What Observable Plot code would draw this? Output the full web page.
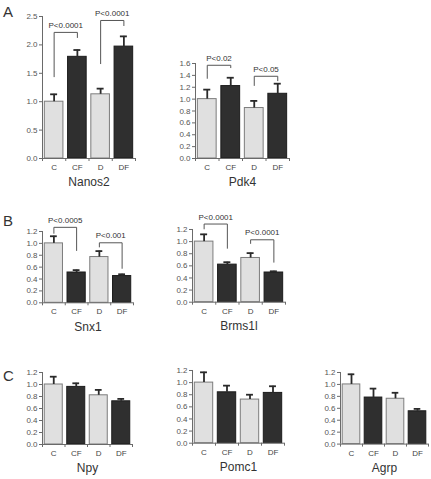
<!DOCTYPE html>
<html>
<head>
<meta charset="utf-8">
<script src="https://cdn.jsdelivr.net/npm/d3@7"></script>
<script src="https://cdn.jsdelivr.net/npm/@observablehq/plot@0.6"></script>
<style>
  html, body { margin: 0; padding: 0; background: #fff; }
  #fig { position: relative; width: 431px; height: 479px; overflow: hidden; font-family: "Liberation Sans", Arial, sans-serif; }
  .panel { position: absolute; }
  .letter { position: absolute; font-size: 15px; line-height: 15px; color: #333; }
</style>
</head>
<body>
<div id="fig"></div>
<script>
// ---- data ----
const categories = ["C", "CF", "D", "DF"];
const genes = ["Nanos2", "Pdk4", "Snx1", "Brms1l", "Npy", "Pomc1", "Agrp"];

const nanos2Mean = [1.00, 1.79, 1.13, 1.97];
const nanos2Sem  = [0.13, 0.12, 0.10, 0.18];
const pdk4Mean   = [1.00, 1.22, 0.85, 1.09];
const pdk4Sem    = [0.16, 0.14, 0.12, 0.17];
const snx1Mean   = [1.00, 0.51, 0.77, 0.45];
const snx1Sem    = [0.12, 0.04, 0.10, 0.03];
const brms1lMean = [1.00, 0.62, 0.73, 0.49];
const brms1lSem  = [0.12, 0.04, 0.08, 0.02];
const npyMean    = [1.00, 0.96, 0.82, 0.72];
const npySem     = [0.13, 0.06, 0.09, 0.04];
const pomc1Mean  = [1.00, 0.84, 0.72, 0.83];
const pomc1Sem   = [0.17, 0.11, 0.08, 0.11];
const agrpMean   = [1.00, 0.78, 0.76, 0.55];
const agrpSem    = [0.17, 0.15, 0.10, 0.04];

// significance brackets: a/b = category indices, top = bracket height, left/right = leg ends
const nanos2Brackets = [
  {a: 0, b: 1, top: 2.22, left: 1.44, right: 2.13, p: "P<0.0001"},
  {a: 2, b: 3, top: 2.43, left: 1.67, right: 2.34, p: "P<0.0001"}
];
const pdk4Brackets = [
  {a: 0, b: 1, top: 1.57, left: 1.35, right: 1.53, p: "P<0.02"},
  {a: 2, b: 3, top: 1.385, left: 1.23, right: 1.31, p: "P<0.05"}
];
const snx1Brackets = [
  {a: 0, b: 1, top: 1.27, left: 1.17, right: 0.88, p: "P<0.0005"},
  {a: 2, b: 3, top: 1.01, left: 0.94, right: 0.58, p: "P<0.001"}
];
const brms1lBrackets = [
  {a: 0, b: 1, top: 1.29, left: 1.21, right: 0.89, p: "P<0.0001"},
  {a: 2, b: 3, top: 1.03, left: 0.97, right: 0.66, p: "P<0.0001"}
];

const yMaxes  = [2.5, 1.6, 1.2, 1.2, 1.2, 1.2, 1.2];
const yTicks  = [0.5, 0.2, 0.2, 0.2, 0.2, 0.2, 0.2];
const letters = ["A", "B", "C"];

// ---- layout (pixel geometry of each panel's plotting frame) ----
const layout = [
  {ax: 42,  xEnd: 135, y0: 158,   yTop: 16},
  {ax: 195, xEnd: 289, y0: 158.3, yTop: 63.3},
  {ax: 42,  xEnd: 133, y0: 302.3, yTop: 231},
  {ax: 192, xEnd: 285, y0: 301.7, yTop: 229},
  {ax: 42,  xEnd: 132, y0: 443.7, yTop: 371.7},
  {ax: 192, xEnd: 284, y0: 442.7, yTop: 370},
  {ax: 340, xEnd: 428, y0: 443.3, yTop: 371.7}
];
const letterTops = [3.5, 212.5, 367.5];

const means = [nanos2Mean, pdk4Mean, snx1Mean, brms1lMean, npyMean, pomc1Mean, agrpMean];
const sems = [nanos2Sem, pdk4Sem, snx1Sem, brms1lSem, npySem, pomc1Sem, agrpSem];
const brackets = [nanos2Brackets, pdk4Brackets, snx1Brackets, brms1lBrackets, [], [], []];

const LIGHT = "#e0e0e0", LIGHT_STROKE = "#7c7c7c";
const DARK = "#2f2f2f", DARK_STROKE = "#1c1c1c";
const AXIS = "#6a6a6a";
const ML = 30, MR = 3, MT = 30, MB = 40;

const fig = document.getElementById("fig");

genes.forEach((gene, g) => {
  const L = layout[g];
  const yMax = yMaxes[g];
  const data = categories.map((c, i) => ({c, i, m: means[g][i], e: means[g][i] + sems[g][i]}));
  const light = data.filter(d => d.i % 2 === 0);
  const dark = data.filter(d => d.i % 2 === 1);
  const br = brackets[g];
  const brPts = br.flatMap((b, k) => [
    {k, x: b.a + 0.5, y: b.left},
    {k, x: b.a + 0.5, y: b.top},
    {k, x: b.b + 0.5, y: b.top},
    {k, x: b.b + 0.5, y: b.right}
  ]);
  const ticks = d3.range(0, yMax + 1e-9, yTicks[g]);
  const width = ML + (L.xEnd - L.ax) + MR;
  const height = MT + (L.y0 - L.yTop) + MB;

  const chart = Plot.plot({
    width, height,
    marginLeft: ML, marginRight: MR, marginTop: MT, marginBottom: MB,
    style: {fontFamily: "'Liberation Sans', Arial, sans-serif", background: "transparent", overflow: "visible", color: "#444"},
    x: {domain: [0, categories.length]},
    y: {domain: [0, yMax], nice: false},
    marks: [
      Plot.rectY(light, {x1: d => d.i + 0.1, x2: d => d.i + 0.9, y1: 0, y2: "m", fill: LIGHT, stroke: LIGHT_STROKE, strokeWidth: 1}),
      Plot.rectY(dark, {x1: d => d.i + 0.1, x2: d => d.i + 0.9, y1: 0, y2: "m", fill: DARK, stroke: DARK_STROKE, strokeWidth: 1}),
      Plot.ruleX(data, {x: d => d.i + 0.5, y1: "m", y2: "e", stroke: "#2a2a2a", strokeWidth: 1.8}),
      Plot.ruleY(data, {y: "e", x1: d => d.i + 0.35, x2: d => d.i + 0.65, stroke: "#2a2a2a", strokeWidth: 1.8}),
      Plot.line(brPts, {x: "x", y: "y", z: "k", stroke: "#555", strokeWidth: 1}),
      Plot.text(br, {x: b => (b.a + b.b) / 2 + 0.5, y: "top", text: "p", dy: -7, fontSize: 8, fill: "#333"}),
      Plot.ruleX([0], {y1: 0, y2: yMax, stroke: AXIS}),
      Plot.ruleY([0], {x1: 0, x2: categories.length, stroke: AXIS}),
      Plot.axisY({ticks, tickFormat: d3.format(".1f"), tickSize: 3, tickPadding: 2, fontSize: 8, fill: "#555", stroke: AXIS, label: null}),
      Plot.axisX({ticks: d3.range(0, categories.length + 1), tickFormat: () => "", tickSize: 3, stroke: AXIS, label: null}),
      Plot.axisX({ticks: categories.map((c, i) => i + 0.5), tickFormat: v => categories[Math.floor(v)], tickSize: 0, tickPadding: 6, fontSize: 8, fill: "#444", label: null}),
      Plot.text([gene], {frameAnchor: "bottom", lineAnchor: "middle", dy: 24, fontSize: 12, fill: "#333"})
    ]
  });
  chart.classList.add("panel");
  chart.style.left = (L.ax - ML) + "px";
  chart.style.top = (L.yTop - MT) + "px";
  fig.appendChild(chart);
});

letters.forEach((t, i) => {
  const el = document.createElement("div");
  el.className = "letter";
  el.textContent = t;
  el.style.left = "3px";
  el.style.top = letterTops[i] + "px";
  fig.appendChild(el);
});
</script>
</body>
</html>
